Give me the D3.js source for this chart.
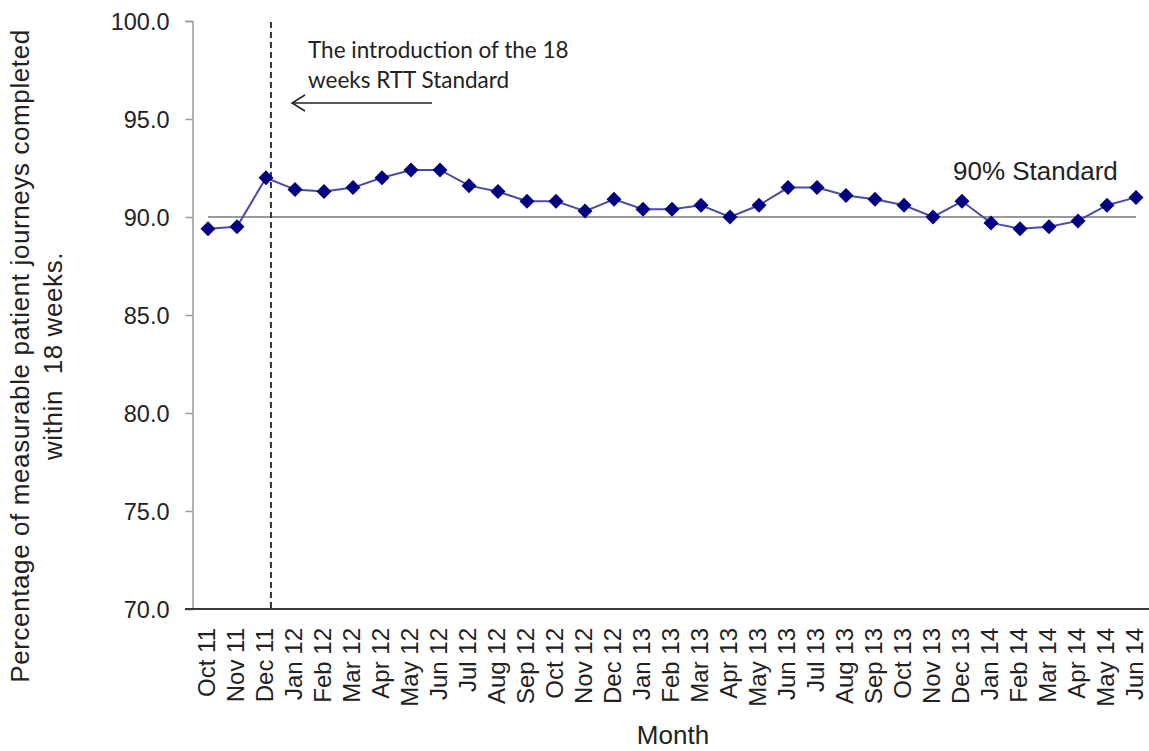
<!DOCTYPE html>
<html><head><meta charset="utf-8">
<script src="https://cdn.jsdelivr.net/npm/d3@7"></script>
<style>body{margin:0;background:#fff}svg{display:block}</style>
</head><body>
<script>
const months = ["Oct 11","Nov 11","Dec 11","Jan 12","Feb 12","Mar 12","Apr 12","May 12","Jun 12","Jul 12","Aug 12","Sep 12","Oct 12","Nov 12","Dec 12","Jan 13","Feb 13","Mar 13","Apr 13","May 13","Jun 13","Jul 13","Aug 13","Sep 13","Oct 13","Nov 13","Dec 13","Jan 14","Feb 14","Mar 14","Apr 14","May 14","Jun 14"];
const percentages = [89.4,89.5,92.0,91.4,91.3,91.5,92.0,92.4,92.4,91.6,91.3,90.8,90.8,90.3,90.9,90.4,90.4,90.6,90.0,90.6,91.5,91.5,91.1,90.9,90.6,90.0,90.8,89.7,89.4,89.5,89.8,90.6,91.0];
const standardValue = 90;
const yTicks = [70,75,80,85,90,95,100];
const introMonth = "Dec 11";
const standardLabel = "90% Standard";
const annotationLines = ["The introduction of the 18","weeks RTT Standard"];
const yTitleLines = ["Percentage of measurable patient journeys completed","within  18 weeks."];
const xTitle = "Month";

const W = 1149, H = 751;
const svg = d3.select("body").append("svg").attr("width", W).attr("height", H);
const x = d3.scaleBand().domain(months).range([193.5, 1150.5]);
const cx = m => x(m) + x.bandwidth()/2;
const y = d3.scaleLinear().domain([70,100]).range([609, 21]);
const font = "'Liberation Sans', Arial, sans-serif";

// y axis
const yAxis = d3.axisLeft(y).tickValues(yTicks).tickFormat(d3.format(".1f")).tickSizeOuter(0).tickSize(7);
const ya = svg.append("g").attr("transform","translate(192.5,0)").call(yAxis);
ya.select(".domain").attr("stroke","#9a9a9a").attr("stroke-width",1.5);
ya.selectAll(".tick line").attr("stroke","#9a9a9a").attr("stroke-width",1.5);
ya.selectAll(".tick text").attr("font-family",font).attr("font-size",23.5).attr("fill","#222").attr("x",-23).attr("dy","0.35em");

// standard line
svg.append("line").attr("x1",cx(months[0])).attr("x2",cx(months[months.length-1]))
  .attr("y1",y(standardValue)).attr("y2",y(standardValue)).attr("stroke","#9a9a9a").attr("stroke-width",2);

// x axis
svg.append("line").attr("x1",185).attr("x2",1149).attr("y1",y(70)).attr("y2",y(70)).attr("stroke","#3a3a3a").attr("stroke-width",2);
svg.append("g").selectAll("text").data(months).join("text")
  .attr("transform", d => `translate(${cx(d)-1.5},628) rotate(-90)`)
  .attr("text-anchor","end").attr("dy","0.35em")
  .attr("font-family",font).attr("font-size",24).attr("fill","#222").text(d=>d);

// intro dashed line
const ix = cx(introMonth) + x.step()*0.17;
svg.append("line").attr("x1",ix).attr("x2",ix).attr("y1",y(100)+1).attr("y2",y(70))
  .attr("stroke","#333").attr("stroke-width",2).attr("stroke-dasharray","6,4");

// data line
const data = months.map((m,i)=>({m, v: percentages[i]}));
svg.append("path").datum(data)
  .attr("d", d3.line().x(d=>cx(d.m)).y(d=>y(d.v)))
  .attr("fill","none").attr("stroke","#4a4aa8").attr("stroke-width",2);
svg.append("g").selectAll("path").data(data).join("path")
  .attr("transform", d=>`translate(${cx(d.m)},${y(d.v)})`)
  .attr("d","M0,-7.5L7.5,0L0,7.5L-7.5,0Z").attr("fill","#000080");

// annotation
const ann = svg.append("text").attr("font-family","Lato, 'Open Sans', sans-serif").attr("font-size",22.5).attr("fill","#222");
annotationLines.forEach((t,i)=> ann.append("tspan").attr("x",308).attr("y",58 + i*30).text(t));
// arrow
svg.append("line").attr("x1",432).attr("x2",292).attr("y1",103).attr("y2",103).attr("stroke","#222").attr("stroke-width",1.5);
svg.append("path").attr("d","M305,95L292,103L305,111").attr("fill","none").attr("stroke","#222").attr("stroke-width",1.5);

// standard label
svg.append("text").attr("x",953).attr("y",180).attr("font-family",font).attr("font-size",26).attr("fill","#222").text(standardLabel);

// titles
svg.append("text").attr("x",673).attr("y",744).attr("text-anchor","middle").attr("font-family",font).attr("font-size",26).attr("fill","#222").text(xTitle);
const yt = svg.append("text").attr("transform","translate(0,356) rotate(-90)").attr("text-anchor","middle")
  .attr("font-family",font).attr("font-size",26).attr("letter-spacing",0.6).attr("fill","#222").style("white-space","pre");
yTitleLines.forEach((t,i)=> yt.append("tspan").attr("x",0).attr("y",29 + i*33).text(t));
</script>
</body></html>
